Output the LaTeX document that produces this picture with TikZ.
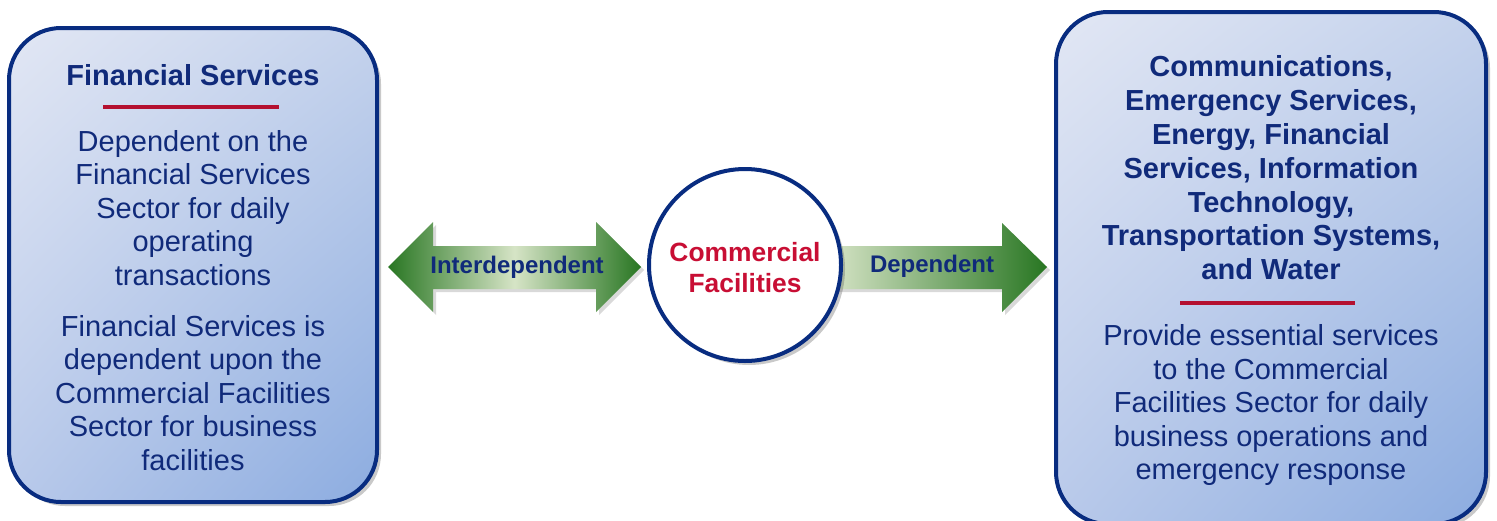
\documentclass[tikz,border=0pt]{standalone}
\usepackage{fontspec}
\setmainfont{Liberation Sans}
\usetikzlibrary{shadows,shadings}

\definecolor{navy}{RGB}{16,42,122}
\definecolor{boxline}{RGB}{8,44,128}
\definecolor{crimson}{RGB}{200,14,52}
\definecolor{rulered}{RGB}{180,16,48}
\definecolor{boxtl}{RGB}{226,231,244}
\definecolor{boxtr}{RGB}{196,210,236}
\definecolor{boxbl}{RGB}{184,201,234}
\definecolor{boxbr}{RGB}{140,172,224}
\definecolor{greendark}{RGB}{40,118,34}
\definecolor{greenlight}{RGB}{214,228,198}

\tikzset{
  sector/.style={rectangle, rounded corners=26pt, draw=boxline, line width=2pt,
    upper left=boxtl, upper right=boxtr, lower left=boxbl, lower right=boxbr,
    drop shadow={shadow xshift=2pt, shadow yshift=-2pt, opacity=.3, fill=black!70}},
  hub/.style={circle, draw=boxline, line width=2pt, fill=white, minimum size=96pt,
    drop shadow={shadow xshift=2pt, shadow yshift=-2pt, opacity=.3, fill=black!70}},
  headtext/.style={inner sep=0, align=center, text=navy, font=\fontsize{14.5}{16.9}\selectfont\bfseries},
  bodytext/.style={inner sep=0, align=center, text=navy, font=\fontsize{14.5}{16.75}\selectfont},
  hubtext/.style={inner sep=0, align=center, text=crimson, font=\fontsize{13.2}{15.5}\selectfont\bfseries},
  arrowtext/.style={inner sep=0, text=navy, font=\fontsize{12}{14}\selectfont\bfseries},
  rule/.style={draw=rulered, line width=2pt},
  blockarrow/.style={drop shadow={shadow xshift=1.5pt, shadow yshift=-1.5pt, opacity=.25, fill=black!60}}
}

\begin{document}
\begin{tikzpicture}[x=0.5pt, y=-0.5pt]
\useasboundingbox (0,0) rectangle (1497,520);

% the two sector boxes
\node[sector, minimum width=184pt, minimum height=237pt] (fin) at (193,265) {};
\node[sector, minimum width=215pt, minimum height=256pt] (other) at (1271,268) {};

% block arrows, drawn before the hub so it hides the tail
\shade[blockarrow, left color=greendark, right color=greendark, middle color=greenlight]
  (388,267) -- ++(45,-45) -- ++(0,24) -- ++(163,0) -- ++(0,-24) -- ++(45,45)
  -- ++(-45,45) -- ++(0,-23) -- ++(-163,0) -- ++(0,23) -- cycle;
\shade[blockarrow, left color=greenlight, right color=greendark]
  (830,246) -- ++(172,0) -- ++(0,-23) -- ++(45,44) -- ++(-45,45) -- ++(0,-23)
  -- ++(-172,0) -- cycle;

\node[hub] (cf) at (745,265) {};

\node[arrowtext] (inter) at (517,267) {Interdependent};
\node[arrowtext] (dep) at (932,266) {Dependent};
\node[hubtext] (cftext) at (745,268) {Commercial\\Facilities};

% left box text
\node[headtext] (fintitle) at (193,75) {Financial Services};
\draw[rule] (103,107) -- (279,107);
\node[bodytext] (finbody1) at (193,208) {Dependent on the\\Financial Services\\Sector for daily\\operating\\transactions};
\node[bodytext] (finbody2) at (193,393) {Financial Services is\\dependent upon the\\Commercial Facilities\\Sector for business\\facilities};

% right box text
\node[headtext] (othertitle) at (1271,168) {Communications,\\Emergency Services,\\Energy, Financial\\Services, Information\\Technology,\\Transportation Systems,\\and Water};
\draw[rule] (1180,303) -- (1355,303);
\node[bodytext] (otherbody) at (1271,405) {Provide essential services\\to the Commercial\\Facilities Sector for daily\\business operations and\\emergency response};

\end{tikzpicture}
\end{document}
